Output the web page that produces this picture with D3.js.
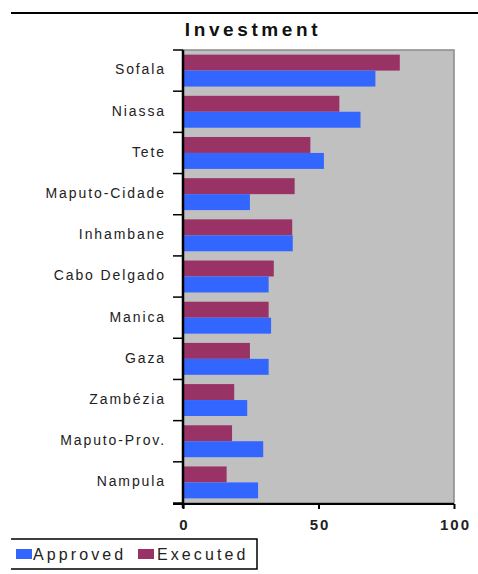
<!DOCTYPE html>
<html>
<head>
<meta charset="utf-8">
<script src="https://cdn.jsdelivr.net/npm/d3@7"></script>
<style>
  html, body { margin: 0; padding: 0; background: #fff; }
  svg { display: block; font-family: "Liberation Sans", Arial, sans-serif; }
</style>
</head>
<body>
<svg id="chart" width="478" height="574"></svg>
<script>
const categories = ["Sofala", "Niassa", "Tete", "Maputo-Cidade", "Inhambane", "Cabo Delgado", "Manica", "Gaza", "Zambézia", "Maputo-Prov.", "Nampula"];
const approved = [71, 65.5, 52, 24.7, 40.5, 31.6, 32.5, 31.6, 23.7, 29.6, 27.7];
const executed = [80, 57.7, 47, 41.2, 40.3, 33.5, 31.6, 24.7, 18.9, 18.1, 16.1];
const seriesNames = ["Executed", "Approved"];
const seriesColors = {"Approved": "#3366FF", "Executed": "#993366"};
const xTicks = [0, 50, 100];
const title = "Investment";

(function () {
const svg = d3.select("#chart");
const pLeft = 183, pRight = 454, pTop = 50, pBottom = 503;

// top rule
svg.append("line").attr("x1", 11).attr("x2", 478).attr("y1", 13).attr("y2", 13)
  .attr("stroke", "#000").attr("stroke-width", 2);

// title
svg.append("text").attr("x", 253).attr("y", 36).attr("text-anchor", "middle")
  .attr("font-size", 19).attr("font-weight", "bold").attr("letter-spacing", 3.6)
  .attr("fill", "#111").text(title);

const x = d3.scaleLinear().domain([0, 100]).range([pLeft, pRight]);
const y = d3.scaleBand().domain(categories).range([pTop, pBottom]).paddingInner(0).paddingOuter(0);
const ySub = d3.scaleBand().domain(seriesNames).range([0, y.bandwidth()]).paddingInner(0).paddingOuter(0.29);

// plot background
svg.append("rect").attr("x", pLeft).attr("y", pTop).attr("width", pRight - pLeft).attr("height", pBottom - pTop)
  .attr("fill", "#C0C0C0").attr("stroke", "#8a8a8a").attr("stroke-width", 1.5);

const rows = categories.map((c, i) => ({cat: c, Approved: approved[i], Executed: executed[i]}));

const g = svg.append("g");
rows.forEach(r => {
  seriesNames.forEach(s => {
    g.append("rect")
      .attr("x", x(0))
      .attr("y", y(r.cat) + ySub(s))
      .attr("width", x(r[s]) - x(0))
      .attr("height", ySub.bandwidth())
      .attr("fill", seriesColors[s]);
  });
});

// category boundary ticks
const bounds = categories.map(c => y(c)).concat([pBottom]);
svg.append("g").selectAll("line").data(bounds).join("line")
  .attr("x1", pLeft - 10).attr("x2", pLeft).attr("y1", d => d).attr("y2", d => d)
  .attr("stroke", "#000").attr("stroke-width", 1.5);
svg.append("line").attr("x1", pLeft).attr("x2", pLeft).attr("y1", pTop).attr("y2", pBottom + 5)
  .attr("stroke", "#000").attr("stroke-width", 2.5);

// category labels
svg.append("g").selectAll("text").data(categories).join("text")
  .attr("x", 166).attr("y", d => y(d) + y.bandwidth() / 2 - 1)
  .attr("dy", "0.35em").attr("text-anchor", "end")
  .attr("font-size", 14).attr("letter-spacing", 1.9).attr("fill", "#222")
  .text(d => d);

// bottom axis
const xAxis = d3.axisBottom(x).tickValues(xTicks).tickSize(5).tickSizeOuter(0).tickPadding(10);
const xa = svg.append("g").attr("transform", `translate(0,${pBottom + 1})`).call(xAxis);
xa.select(".domain").attr("stroke", "#000").attr("stroke-width", 2).attr("d", `M${pLeft - 10},0H${pRight}`);
xa.selectAll(".tick line").attr("stroke", "#000").attr("stroke-width", 2);
xa.selectAll(".tick text").attr("font-size", 15).attr("font-weight", "bold")
  .attr("letter-spacing", 2).attr("fill", "#222").attr("font-family", "Liberation Sans, Arial, sans-serif")
  .attr("dx", 1);

// legend
svg.append("path").attr("d", "M11,539H257V569H11").attr("fill", "none")
  .attr("stroke", "#000").attr("stroke-width", 1.5);
const legendItems = [{name: "Approved", x: 16, tx: 33}, {name: "Executed", x: 138, tx: 157}];
legendItems.forEach(it => {
  svg.append("rect").attr("x", it.x).attr("y", 549).attr("width", 16).attr("height", 10)
    .attr("fill", seriesColors[it.name]);
  svg.append("text").attr("x", it.tx).attr("y", 560).attr("font-size", 16)
    .attr("letter-spacing", 3.1).attr("fill", "#222").text(it.name);
});
})();
</script>
</body>
</html>
